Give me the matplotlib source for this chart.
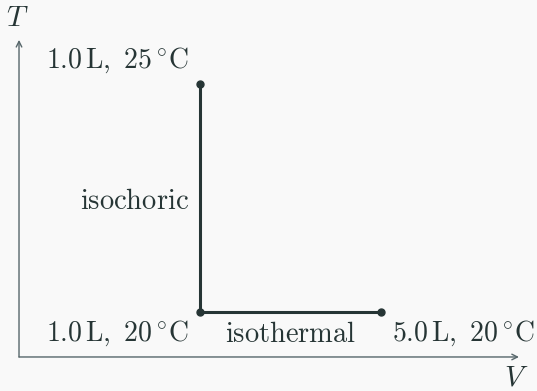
import matplotlib.pyplot as plt

# state points (volume in L, temperature in degC)
volume = [1.0, 1.0, 5.0]
temperature = [25, 20, 20]
point_labels = [r"$1.0\,\mathrm{L},\ 25\,^{\circ}\mathrm{C}$",
                r"$1.0\,\mathrm{L},\ 20\,^{\circ}\mathrm{C}$",
                r"$5.0\,\mathrm{L},\ 20\,^{\circ}\mathrm{C}$"]
process_labels = [r"$\mathrm{isochoric}$", r"$\mathrm{isothermal}$"]

plt.rcParams["mathtext.fontset"] = "cm"

bg = "#f9f9f9"
ink = "#263535"
axis_col = "#56666a"

fig = plt.figure(figsize=(5.37, 3.91), dpi=100, facecolor=bg)
ax = fig.add_axes([0.0354, 0.087, 0.931, 0.811], facecolor=bg)
ax.set_xlim(-3, 8.05)
ax.set_ylim(19.0, 25.98)
for s in ax.spines.values():
    s.set_visible(False)
ax.set_xticks([])
ax.set_yticks([])

# axes with open arrow heads
arrow = dict(arrowstyle="->", color=axis_col, lw=1.0, shrinkA=0, shrinkB=0)
ax.annotate("", xy=(0, 1), xytext=(0, 0), xycoords="axes fraction", arrowprops=arrow)
ax.annotate("", xy=(1, 0), xytext=(0, 0), xycoords="axes fraction", arrowprops=arrow)
ax.text(-0.004, 1.07, r"$T$", transform=ax.transAxes, fontsize=21, color=ink,
        ha="center", va="center")
ax.text(0.995, -0.065, r"$V$", transform=ax.transAxes, fontsize=21, color=ink,
        ha="center", va="center")

# process path
ax.plot(volume, temperature, color=ink, lw=2.2, solid_joinstyle="miter", zorder=3)
ax.plot(volume, temperature, "o", color=ink, ms=5, zorder=4)

# point labels
offsets = [(-11, 24, "right"), (-11, -22, "right"), (11, -22, "left")]
for v, t, lab, (dx, dy, ha) in zip(volume, temperature, point_labels, offsets):
    ax.annotate(lab, (v, t), xytext=(dx, dy), textcoords="offset pixels",
                fontsize=20, color=ink, ha=ha, va="center")

# process labels
ax.annotate(process_labels[0], (volume[0], (temperature[0] + temperature[1]) / 2),
            xytext=(-11, -3), textcoords="offset pixels", fontsize=20.5, color=ink,
            ha="right", va="center")
ax.annotate(process_labels[1], ((volume[1] + volume[2]) / 2, temperature[1]),
            xytext=(0, -22), textcoords="offset pixels", fontsize=20.5, color=ink,
            ha="center", va="center")

fig.savefig("out.png", dpi=100, facecolor=bg)
